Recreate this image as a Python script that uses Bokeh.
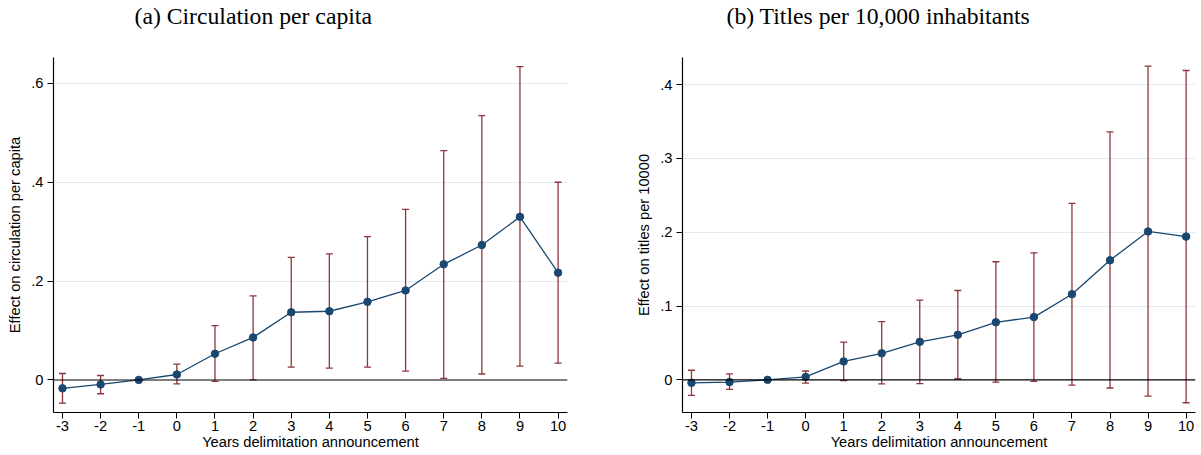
from bokeh.plotting import figure
from bokeh.layouts import row
from bokeh.models import FixedTicker, Span, Title, ColumnDataSource
from bokeh.embed import file_html
from bokeh.resources import INLINE

# ---------------- data ----------------
years = [-3, -2, -1, 0, 1, 2, 3, 4, 5, 6, 7, 8, 9, 10]
year_labels = {y: str(y) for y in years}

circ_coef = [-0.017, -0.009, 0.0, 0.011, 0.053, 0.086, 0.137, 0.139, 0.158, 0.181, 0.234, 0.273, 0.330, 0.217]
circ_hi = [0.013, 0.009, 0.0, 0.032, 0.110, 0.170, 0.248, 0.255, 0.290, 0.345, 0.464, 0.535, 0.634, 0.400]
circ_lo = [-0.047, -0.028, 0.0, -0.008, -0.003, 0.000, 0.026, 0.024, 0.026, 0.018, 0.003, 0.012, 0.028, 0.034]

tit_coef = [-0.004, -0.003, 0.0, 0.004, 0.025, 0.036, 0.0515, 0.061, 0.078, 0.085, 0.116, 0.162, 0.201, 0.194]
tit_hi = [0.013, 0.008, 0.0, 0.012, 0.051, 0.079, 0.108, 0.121, 0.160, 0.172, 0.239, 0.336, 0.425, 0.419]
tit_lo = [-0.021, -0.013, 0.0, -0.0045, -0.001, -0.0055, -0.005, 0.0015, -0.003, -0.002, -0.007, -0.011, -0.022, -0.031]

circ_yticks = [0, 0.2, 0.4, 0.6]
circ_ylabels = {0: "0", 0.2: ".2", 0.4: ".4", 0.6: ".6"}
tit_yticks = [0, 0.1, 0.2, 0.3, 0.4]
tit_ylabels = {0: "0", 0.1: ".1", 0.2: ".2", 0.3: ".3", 0.4: ".4"}

NAVY = "#1a476f"
MAROON = "#90353b"
GRID = "#e3ecef"
SANS = "Liberation Sans"
SERIF = "Liberation Serif"
FS = "14.7px"

FRAME_H = 355


def make_panel(title, ylabel, coef, lo, hi, yticks, ylabels, yrange,
               border_left, frame_w, border_right, title_offset):
    p = figure(frame_width=frame_w, frame_height=FRAME_H,
               min_border_left=border_left, min_border_right=border_right,
               min_border_top=57, min_border_bottom=42,
               x_range=(-3.236, 10.247), y_range=yrange,
               output_backend="svg", toolbar_location=None,
               background_fill_color="white", border_fill_color="white")
    p.outline_line_color = None

    src = ColumnDataSource(dict(x=years, y=coef, lo=lo, hi=hi))

    # error bars
    p.segment(x0="x", y0="lo", x1="x", y1="hi", source=src,
              line_color=MAROON, line_width=1.3)
    p.scatter(x="x", y="lo", source=src, marker="dash", size=7,
              line_color=MAROON, line_width=1.3)
    p.scatter(x="x", y="hi", source=src, marker="dash", size=7,
              line_color=MAROON, line_width=1.3)

    # zero line
    p.add_layout(Span(location=0, dimension="width", line_color="black",
                      line_width=1.1))

    # estimates
    p.line(x="x", y="y", source=src, line_color=NAVY, line_width=1.3)
    p.scatter(x="x", y="y", source=src, marker="circle", size=7.5,
              fill_color=NAVY, line_color=NAVY)

    # axes
    p.xaxis.ticker = FixedTicker(ticks=years)
    p.xaxis.major_label_overrides = year_labels
    p.yaxis.ticker = FixedTicker(ticks=yticks)
    p.yaxis.major_label_overrides = ylabels
    p.xgrid.grid_line_color = None
    p.ygrid.ticker = FixedTicker(ticks=[t for t in yticks if t != 0])
    p.ygrid.grid_line_color = GRID
    p.ygrid.grid_line_width = 1

    for ax in (p.xaxis[0], p.yaxis[0]):
        ax.axis_line_color = "black"
        ax.axis_line_width = 1.2
        ax.major_tick_line_color = "black"
        ax.major_tick_out = 6
        ax.major_tick_in = 0
        ax.minor_tick_line_color = None
        ax.major_label_text_font = SANS
        ax.major_label_text_font_size = FS
        ax.major_label_text_color = "black"
        ax.axis_label_text_font = SANS
        ax.axis_label_text_font_size = FS
        ax.axis_label_text_font_style = "normal"
        ax.axis_label_text_color = "black"
    p.xaxis.axis_label = "Years delimitation announcement"
    p.yaxis.axis_label = ylabel
    p.xaxis.major_label_standoff = 2
    p.xaxis.axis_label_standoff = 0
    p.yaxis.major_label_standoff = 4
    p.yaxis.axis_label_standoff = 5
    p.yaxis.major_label_orientation = "horizontal"

    # empty spacer next to the frame, then the panel title above it
    p.add_layout(Title(text=" ", text_font=SERIF, text_font_size="10px",
                       text_color="white", standoff=16), "above")
    p.add_layout(Title(text=title, text_font=SERIF, text_font_size="23.7px",
                       text_font_style="normal", text_color="black",
                       align="left", offset=title_offset, standoff=0,
                       vertical_align="bottom"),
                 "above")
    return p


p1 = make_panel("(a) Circulation per capita", "Effect on circulation per capita",
                circ_coef, circ_lo, circ_hi, circ_yticks, circ_ylabels,
                (-0.0659, 0.6525), 53, 514, 33, 81)
p2 = make_panel("(b) Titles per 10,000 inhabitants", "Effect on titles per 10000",
                tit_coef, tit_lo, tit_hi, tit_yticks, tit_ylabels,
                (-0.0442, 0.4366), 82, 513, 5, 44)

layout = row(p1, p2, spacing=0)
open("out.html", "w").write(file_html(layout, INLINE))
